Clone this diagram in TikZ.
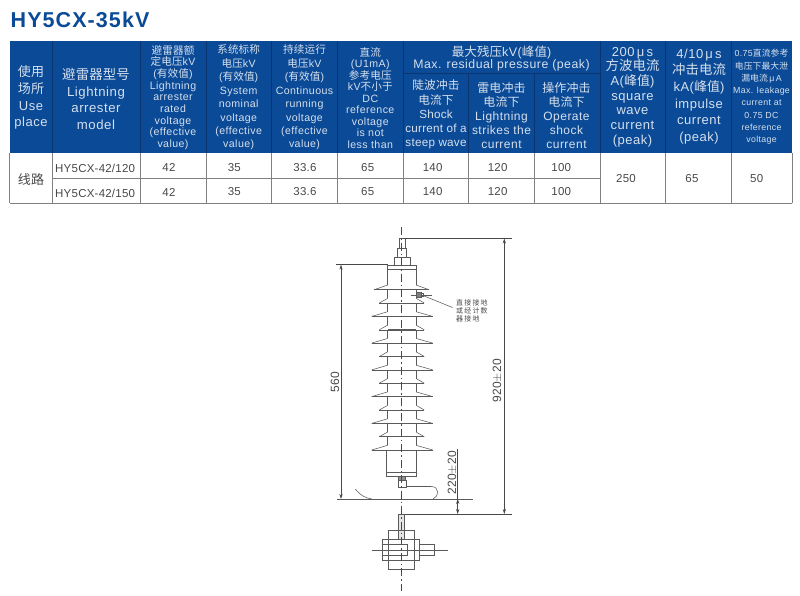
\documentclass[tikz,border=0pt]{standalone}
\usepackage{fontspec}
\usetikzlibrary{arrows.meta}
\setmainfont[LetterSpace=4]{Liberation Sans}
\newfontfamily\valfont[LetterSpace=2]{Liberation Sans}
\newfontfamily\titlefont[LetterSpace=5]{Liberation Sans}
\newfontfamily\cjkfont[LetterSpace=1]{Noto Sans CJK SC}
\newcommand{\zh}[1]{{\cjkfont #1}}
\newcommand{\fs}[2]{\fontsize{#1}{#2}\selectfont}
\definecolor{headblue}{HTML}{0B4A96}
\definecolor{headline}{HTML}{0A3570}
\definecolor{headtext}{HTML}{D5E0EE}
\definecolor{rule}{HTML}{808080}
\definecolor{ink}{HTML}{484848}
\tikzset{
	headcell/.style={text=headtext,align=center,inner sep=0pt},
	valcell/.style={text=ink,inner sep=0pt,font=\valfont\fs{11.5}{13}},
	drawline/.style={draw=ink!90,line width=.55pt},
	axisline/.style={draw=ink,line width=.6pt,dash pattern=on 8pt off 3pt on 1.5pt off 3pt},
	dimline/.style={draw=ink,line width=.55pt},
	dimarrow/.style={dimline,-{Stealth[length=5pt,width=3.2pt]}},
	dimtext/.style={text=ink,rotate=90,inner sep=0pt,font=\valfont\fs{12}{13}}
}
\begin{document}
\begin{tikzpicture}[x=1pt,y=-1pt]
	\useasboundingbox (0,0) rectangle (800,596);
	\node[anchor=west,text=headblue,inner sep=0pt,font=\titlefont\bfseries\fs{21.5}{24}] (title) at (10.5,19.5) {HY5CX-35kV};

	\fill[headblue] (9.5,41.5) rectangle (792,153.5);
	\foreach \x in {52.5,140.5,206,271.5,337.5,403,600,665.5,731.5}
		\draw[headline,line width=.6pt] (\x,41.5) -- (\x,153.5);
	\foreach \x in {468.5,534.5}
		\draw[headline,line width=.6pt] (\x,73) -- (\x,153.5);
	\draw[headline,line width=.6pt] (403,73) -- (600,73);

	\foreach \x in {9.5,52.5,140.5,206,271.5,337.5,403,468.5,534.5,600,665.5,731.5,792}
		\draw[rule,line width=.7pt] (\x,153.5) -- (\x,203);
	\draw[rule,line width=.7pt] (52.5,178) -- (600,178);
	\draw[rule,line width=.8pt] (9.5,203) -- (792,203);

	\node[headcell,font=\fs{13}{16.9}] (useplace) at (31,97.5) {\zh{使用}\\\zh{场所}\\Use\\place};
	\node[headcell,font=\fs{13.2}{16.5}] (model) at (96,99) {{\fs{13.4}{16.5}\zh{避雷器型号}}\\Lightning\\arrester\\model};
	\node[headcell,font=\fs{10.6}{11.7}] (rated) at (173,97.5) {\zh{避雷器额}\\\zh{定电压}kV\\(\zh{有效值})\\Lightning\\arrester\\rated\\voltage\\(effective\\value)};
	\node[headcell,font=\fs{10.6}{13.45}] (nominal) at (238.7,97.5) {\zh{系统标称}\\\zh{电压}kV\\(\zh{有效值})\\System\\nominal\\voltage\\(effective\\value)};
	\node[headcell,font=\fs{10.6}{13.45}] (running) at (304.5,97.5) {\zh{持续运行}\\\zh{电压}kV\\(\zh{有效值})\\Continuous\\running\\voltage\\(effective\\value)};
	\node[headcell,font=\fs{10.6}{11.5}] (dcref) at (370.3,98) {\zh{直流}\\(U1mA)\\\zh{参考电压}\\kV\zh{不小于}\\DC\\reference\\voltage\\is not\\less than};
	\node[headcell,font=\fs{12.3}{12}] (residual) at (501.5,58.7) {{\fs{12.5}{12}\zh{最大残压}kV(\zh{峰值})}\\Max. residual pressure (peak)};
	\node[headcell,font=\valfont\fs{11.7}{14.2}] (steep) at (436,114.5) {\zh{陡波冲击}\\\zh{电流下}\\Shock\\current of a\\steep wave};
	\node[headcell,font=\fs{12}{14.2}] (strikes) at (501.5,115.5) {\zh{雷电冲击}\\\zh{电流下}\\Lightning\\strikes the\\current};
	\node[headcell,font=\fs{12}{14.2}] (operate) at (566.5,115.5) {\zh{操作冲击}\\\zh{电流下}\\Operate\\shock\\current};
	\node[headcell,font=\fs{13}{14.7}] (square) at (632.5,97) {200\,μ\,s\\{\fs{13.4}{14.7}\zh{方波电流}}\\A(\zh{峰值})\\square\\wave\\current\\(peak)};
	\node[headcell,font=\fs{13}{16.6}] (impulse) at (699,96.5) {4/10\,μ\,s\\{\fs{13.4}{16.6}\zh{冲击电流}}\\kA(\zh{峰值})\\impulse\\current\\(peak)};
	\node[headcell,font=\fs{8.8}{12.3}] (leakage) at (761.5,97) {0.75\zh{直流参考}\\\zh{电压下最大泄}\\\zh{漏电流}\,μ\,A\\Max. leakage\\current at\\0.75 DC\\reference\\voltage};

	\node[text=ink,inner sep=0pt,font=\fs{13}{15}] (line) at (31,180) {\zh{线路}};
	\node[valcell,anchor=west] (modela) at (55,168) {HY5CX-42/120};
	\node[valcell,anchor=west] (modelb) at (55,193) {HY5CX-42/150};
	\foreach \x/\val/\nm in {169/42/ra,234.3/35/no,305/33.6/ru,367.7/65/dc,432.7/140/st,497.7/120/li,561.3/100/op}{
		\node[valcell] (\nm a) at (\x,167.5) {\val};
		\node[valcell] (\nm b) at (\x,192) {\val};
	}
	\node[valcell] (squareval) at (626,178.5) {250};
	\node[valcell] (impulseval) at (692,178.5) {65};
	\node[valcell] (leakageval) at (756.7,178.5) {50};

	% arrester
	\draw[drawline] (399.5,238.5) rectangle (405.3,248);
	\draw[drawline] (397.7,248) rectangle (406.7,257);
	\draw[drawline] (394.3,257) rectangle (410,265);
	\draw[drawline,line width=.8pt] (387.7,265) rectangle (416,269.5);
	\draw[drawline] (387.7,269.5) -- (387.7,285);
	\draw[drawline] (416,269.5) -- (416,285);
	\foreach \y/\tl/\tr in {289.7/374.3/429,303/379.3/424.3,316.4/371.7/432.7,329.8/379.3/424.3,343.1/371.7/432.7,356.5/379.3/424.3,369.9/371.7/432.7,383.2/379.3/424.3,396.6/371.7/432.7,410/379.3/424.3,423.4/371.7/432.7,436.7/379.3/424.3,450/371.7/432.7}{
		\draw[drawline] (\tl,\y) -- (387.7,\y-4.7);
		\draw[drawline] (\tr,\y) -- (416,\y-4.7);
		\draw[drawline] (\tl,\y) -- (\tr,\y);
		\draw[drawline,line width=.8pt] (387.7,\y) -- (416,\y);
	}
	\foreach \y in {303,316.4,329.8,343.1,356.5,369.9,383.2,396.6,410,423.4,436.7,450}{
		\draw[drawline] (387.7,\y-13.35) -- (387.7,\y-4.7);
		\draw[drawline] (416,\y-13.35) -- (416,\y-4.7);
	}
	\draw[drawline] (386.7,450) rectangle (416.7,476);
	\draw[drawline,line width=.9pt] (386.7,472) -- (416.7,472);
	\draw[drawline,fill=ink!60] (398,476) rectangle (405,480);
	\draw[drawline] (398,480) rectangle (406,487);

	% ground strap
	\draw[drawline] (406,486.5) -- (431,486.5) .. controls (435.5,486.5) and (437.5,489) .. (437.5,491.5) .. controls (437.5,495) and (436,498) .. (433,499);
	\draw[drawline] (355.3,489) .. controls (360,495) and (365,498) .. (371.7,499);
	\draw[drawline] (337,499) -- (473,499);

	% ground note
	\draw[drawline] (410.7,295) -- (431.7,295);
	\draw[drawline,fill=ink!70] (416,292.7) rectangle (421.7,297.3);
	\draw[drawline] (421.7,293.5) rectangle (423.7,296.5);
	\node[anchor=west,text=ink,inner sep=0pt,align=left,font=\cjkfont\fs{7}{7.9}] (groundnote) at (456,311) {直\,接\,接\,地\\或\,经\,计\,数\\器\,接\,地};
	\coordinate (groundnoteend) at (452.5,307.5);
	\draw[drawline] (421.7,295) -- (groundnoteend);

	% dimensions
	\draw[dimline] (336,264.7) -- (387.7,264.7);
	\draw[dimarrow] (341,388) -- (341,264.7);
	\draw[dimarrow] (341,388) -- (341,499);
	\node[dimtext] (height) at (335,382) {560};
	\draw[dimline] (403,238.5) -- (512,238.5);
	\draw[dimline] (403,514) -- (511.7,514);
	\draw[dimarrow] (504.3,376) -- (504.3,238.5);
	\draw[dimarrow] (504.3,376) -- (504.3,514);
	\node[dimtext] (total) at (497.5,381) {920$\pm$20};
	\draw[dimline] (457.7,449) -- (457.7,499);
	\draw[dimline,{Stealth[length=5pt,width=3.2pt]}-{Stealth[length=5pt,width=3.2pt]}] (457.7,499) -- (457.7,514);
	\node[dimtext] (gap) at (452.5,473) {220$\pm$20};

	% base plate
	\draw[drawline,fill=ink!15] (398.7,514) rectangle (404,539.3);
	\draw[drawline] (388.7,530.7) rectangle (414.3,569);
	\draw[drawline] (382.7,539.3) rectangle (419.3,560.7);
	\draw[drawline,line width=.8pt] (382.7,544.3) rectangle (407.3,555.3);
	\draw[drawline] (419.3,544.3) rectangle (434.3,555.3);
	\draw[drawline] (371.7,550) -- (447.7,550);
	\draw[axisline] (401.5,227) -- (401.5,591);
\end{tikzpicture}
\end{document}
